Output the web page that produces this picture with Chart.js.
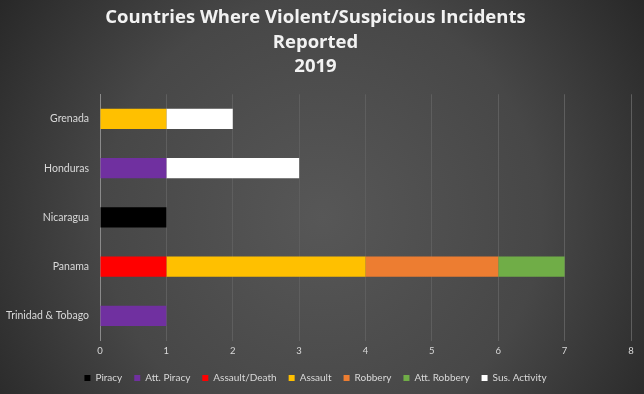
<!DOCTYPE html>
<html><head><meta charset="utf-8">
<script src="https://cdn.jsdelivr.net/npm/chart.js@4"></script>
<style>html,body{margin:0;padding:0;background:#3a3a3a;}#wrap{width:644px;height:394px;}</style>
</head><body><div id="wrap"><canvas id="c" width="644" height="394"></canvas></div>
<script>
const countries = ["Grenada", "Honduras", "Nicaragua", "Panama", "Trinidad & Tobago"];
const seriesNames = ["Piracy", "Att. Piracy", "Assault/Death", "Assault", "Robbery", "Att. Robbery", "Sus. Activity"];
const piracy       = [0, 0, 1, 0, 0];
const attPiracy    = [0, 1, 0, 0, 1];
const assaultDeath = [0, 0, 0, 1, 0];
const assault      = [1, 0, 0, 3, 0];
const robbery      = [0, 0, 0, 2, 0];
const attRobbery   = [0, 0, 0, 1, 0];
const susActivity  = [1, 2, 0, 0, 0];
const xTicks = [0, 1, 2, 3, 4, 5, 6, 7, 8];
const titleLines = ["Countries Where Violent/Suspicious Incidents", "Reported", "2019"];

const seriesData = [piracy, attPiracy, assaultDeath, assault, robbery, attRobbery, susActivity];
const colors = ["#000000", "#7030A0", "#FF0000", "#FFC000", "#ED7D31", "#70AD47", "#FFFFFF"];

const bgPlugin = {
  id: 'bg',
  beforeDraw(chart) {
    const ctx = chart.ctx, w = chart.width, h = chart.height;
    ctx.save();
    const g = ctx.createRadialGradient(w*0.5, h*0.55, 0, w*0.5, h*0.55, w*0.62);
    g.addColorStop(0, '#575757');
    g.addColorStop(0.55, '#474747');
    g.addColorStop(1, '#262626');
    ctx.fillStyle = g;
    ctx.fillRect(0, 0, w, h);
    ctx.restore();
  }
};

new Chart(document.getElementById('c'), {
  type: 'bar',
  data: {
    labels: countries,
    datasets: seriesNames.map((n, i) => ({
      label: n,
      data: seriesData[i],
      backgroundColor: colors[i],
      borderWidth: 0,
      barPercentage: 0.41,
      categoryPercentage: 1.0
    }))
  },
  options: {
    indexAxis: 'y',
    responsive: false,
    animation: false,
    layout: { padding: { top: 0, right: 13, bottom: 1, left: 0 } },
    scales: {
      x: {
        stacked: true,
        min: 0, max: 8,
        afterBuildTicks(s) { s.ticks = xTicks.map(v => ({ value: v })); },
        grid: { color: '#5e5e5e', lineWidth: 1, drawTicks: false },
        border: { display: false },
        ticks: { color: '#d9d9d9', font: { family: 'Lato', size: 9.5 }, padding: 5 },
        afterFit(s) { s.height = 20.5; }
      },
      y: {
        stacked: true,
        grid: { display: false, drawTicks: false },
        border: { display: true, color: '#8a8a8a', width: 1 },
        ticks: { color: '#d9d9d9', font: { family: 'Lato', size: 10.5 }, padding: 11 },
        afterFit(s) { s.width = 100; }
      }
    },
    plugins: {
      title: {
        display: true,
        text: titleLines,
        color: '#f2f2f2',
        font: { family: 'Open Sans', size: 18.5, weight: 'bold', lineHeight: 1.32 },
        padding: { top: 6, bottom: 15 }
      },
      legend: {
        position: 'bottom',
        labels: {
          color: '#d9d9d9',
          font: { family: 'Lato', size: 10 },
          boxWidth: 6, boxHeight: 6,
          padding: 12
        }
      },
      tooltip: { enabled: false }
    }
  },
  plugins: [bgPlugin]
});
</script></body></html>
